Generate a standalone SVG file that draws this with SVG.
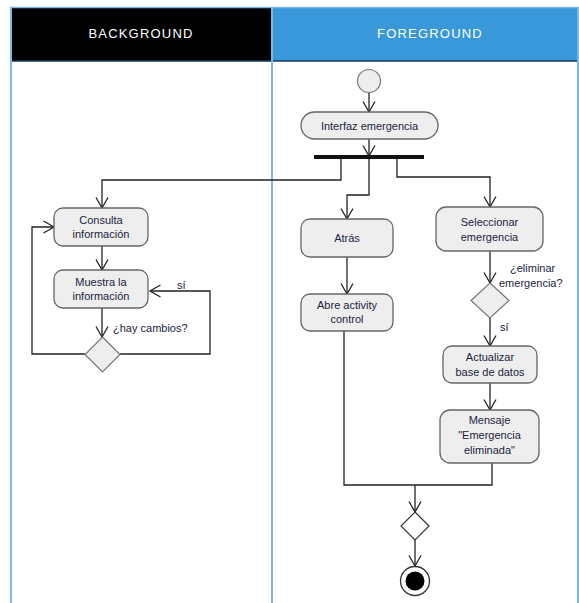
<svg xmlns="http://www.w3.org/2000/svg" width="579" height="603" viewBox="0 0 579 603">
  <defs>
    <marker id="arrow" markerUnits="userSpaceOnUse" markerWidth="14" markerHeight="14" viewBox="0 0 14 14" refX="12" refY="7" orient="auto">
      <path d="M1.5,1 L12,7 L1.5,13" fill="none" stroke="#222" stroke-width="1.3"/>
    </marker>
  </defs>
  <style>
    .lane { stroke: #7cb8e6; stroke-width: 2; fill: none; }
    .hdr { font-family: "Liberation Sans", Arial, sans-serif; font-size: 13px; fill: #ffffff; text-anchor: middle; letter-spacing: 1.2px; }
    .act { fill: #eeeeee; stroke: #666666; stroke-width: 1.3; }
    .dec { fill: #eeeeee; stroke: #777777; stroke-width: 1.2; }
    .lbl { font-family: "Liberation Sans", Arial, sans-serif; font-size: 11px; fill: #1c2340; text-anchor: middle; }
    .note { font-family: "Liberation Sans", Arial, sans-serif; font-size: 11px; fill: #1c2340; }
    .edge { fill: none; stroke: #222222; stroke-width: 1.3; }
  </style>

  <rect width="579" height="603" fill="#ffffff"/>

  <!-- swimlane headers -->
  <g id="lane-background">
    <rect x="10" y="8" width="262" height="53" fill="#000000"/>
    <text class="hdr" x="141" y="38">BACKGROUND</text>
  </g>
  <g id="lane-foreground">
    <rect x="272" y="8" width="307" height="53" fill="#3898da"/>
    <text class="hdr" x="430" y="38">FOREGROUND</text>
  </g>
  <line x1="10" y1="7.5" x2="579" y2="7.5" stroke="#7cb8e6" stroke-width="1.5"/>
  <line x1="10" y1="61" x2="579" y2="61" stroke="#1d3a55" stroke-width="1.5"/>
  <line class="lane" x1="11" y1="8" x2="11" y2="603"/>
  <line class="lane" x1="272" y1="8" x2="272" y2="603"/>
  <line class="lane" x1="578" y1="8" x2="578" y2="603"/>

  <!-- connectors -->
  <g id="connectors">
    <path class="edge" d="M369,93 V112" marker-end="url(#arrow)"/>
    <path class="edge" d="M369,139 V156" marker-end="url(#arrow)"/>
    <path class="edge" d="M341,159 V180 H102 V208" marker-end="url(#arrow)"/>
    <path class="edge" d="M369,159 V195 H347 V219" marker-end="url(#arrow)"/>
    <path class="edge" d="M397,159 V177 H490 V207" marker-end="url(#arrow)"/>
    <path class="edge" d="M102,246 V270" marker-end="url(#arrow)"/>
    <path class="edge" d="M102,308 V337" marker-end="url(#arrow)"/>
    <path class="edge" d="M85,354 H32 V227 H54" marker-end="url(#arrow)"/>
    <path class="edge" d="M120,354 H210 V291 H150" marker-end="url(#arrow)"/>
    <path class="edge" d="M347,257 V294" marker-end="url(#arrow)"/>
    <path class="edge" d="M490,251 V283" marker-end="url(#arrow)"/>
    <path class="edge" d="M490,318 V346" marker-end="url(#arrow)"/>
    <path class="edge" d="M490,383 V410" marker-end="url(#arrow)"/>
    <path class="edge" d="M344,331 V485 H492 V463"/>
    <path class="edge" d="M415,485 V512" marker-end="url(#arrow)"/>
    <path class="edge" d="M415,540 V566" marker-end="url(#arrow)"/>
    <text class="note" x="177" y="289">sí</text>
    <text class="note" x="113" y="332">¿hay  cambios?</text>
    <text class="note" x="510" y="272">¿eliminar</text>
    <text class="note" x="499" y="287">emergencia?</text>
    <text class="note" x="500" y="331">sí</text>
  </g>

  <!-- nodes -->
  <g id="start">
    <circle cx="369" cy="81" r="11.5" fill="#eeeeee" stroke="#777777" stroke-width="1.2"/>
  </g>
  <g id="interfaz-emergencia">
    <rect class="act" x="301" y="112" width="137" height="27" rx="13.5"/>
    <text class="lbl" x="369.5" y="130">Interfaz emergencia</text>
  </g>
  <g id="fork">
    <rect x="314" y="155" width="110" height="4" fill="#111111"/>
  </g>
  <g id="consulta-informacion">
    <rect class="act" x="54" y="208" width="94" height="38" rx="9"/>
    <text class="lbl" x="101" y="224">Consulta</text>
    <text class="lbl" x="101" y="238">información</text>
  </g>
  <g id="muestra-informacion">
    <rect class="act" x="54" y="270" width="94" height="38" rx="9"/>
    <text class="lbl" x="101" y="286">Muestra la</text>
    <text class="lbl" x="101" y="300">información</text>
  </g>
  <g id="hay-cambios">
    <path class="dec" d="M102.5,337 L120,354.5 L102.5,372 L85,354.5 Z"/>
  </g>
  <g id="atras">
    <rect class="act" x="301" y="219" width="92" height="38" rx="9"/>
    <text class="lbl" x="347" y="242">Atrás</text>
  </g>
  <g id="abre-activity-control">
    <rect class="act" x="301" y="294" width="92" height="37" rx="9"/>
    <text class="lbl" x="347" y="309">Abre activity</text>
    <text class="lbl" x="347" y="323">control</text>
  </g>
  <g id="seleccionar-emergencia">
    <rect class="act" x="436" y="207" width="107" height="44" rx="10"/>
    <text class="lbl" x="489.5" y="226">Seleccionar</text>
    <text class="lbl" x="489.5" y="241">emergencia</text>
  </g>
  <g id="eliminar-emergencia">
    <path class="dec" d="M490,283 L509,300.5 L490,318 L471,300.5 Z"/>
  </g>
  <g id="actualizar-base">
    <rect class="act" x="443" y="346" width="94" height="37" rx="9"/>
    <text class="lbl" x="490" y="361">Actualizar</text>
    <text class="lbl" x="490" y="376">base de datos</text>
  </g>
  <g id="mensaje-eliminada">
    <rect class="act" x="440" y="410" width="99" height="53" rx="10"/>
    <text class="lbl" x="489.5" y="424">Mensaje</text>
    <text class="lbl" x="489.5" y="439">"Emergencia</text>
    <text class="lbl" x="489.5" y="454">eliminada"</text>
  </g>
  <g id="merge">
    <path d="M415,512 L429,526 L415,540 L401,526 Z" fill="#ffffff" stroke="#333333" stroke-width="1.2"/>
  </g>
  <g id="end">
    <circle cx="415" cy="581" r="14.5" fill="#ffffff" stroke="#333333" stroke-width="1.3"/>
    <circle cx="415" cy="581" r="9.5" fill="#000000"/>
  </g>
</svg>
